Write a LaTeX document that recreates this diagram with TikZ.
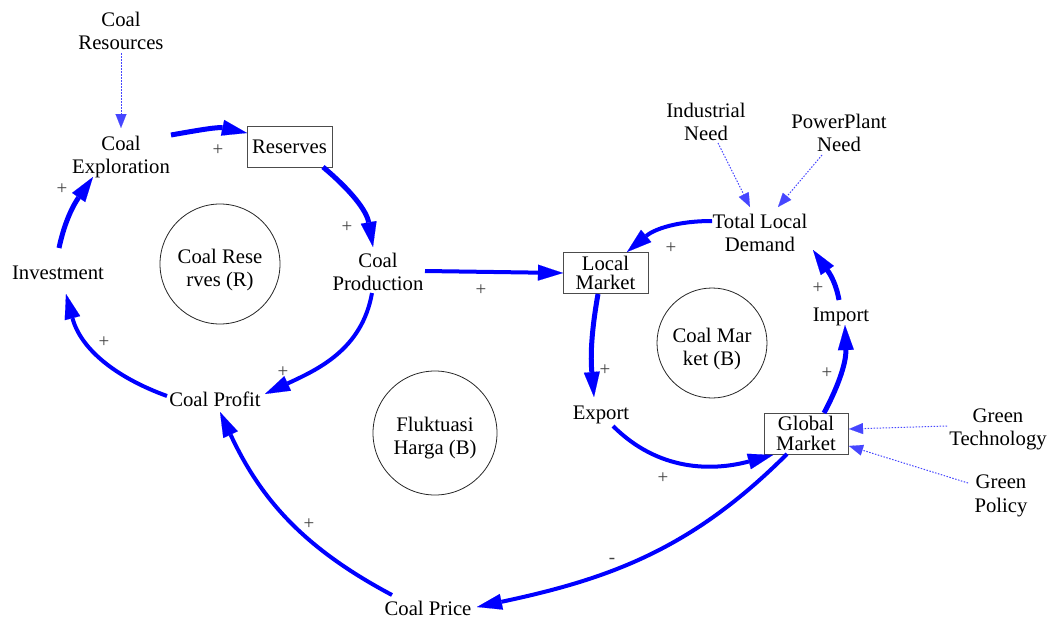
\documentclass[tikz,border=0pt]{standalone}
\usepackage{fontspec}
\setmainfont{Liberation Serif}
\newfontfamily\timesfam{Liberation Serif}
\usetikzlibrary{arrows.meta}
\definecolor{linkblue}{RGB}{0,0,255}
\definecolor{dotblue}{RGB}{70,70,255}
\newcommand\diagfont{\timesfam\fontsize{20.7}{23.5}\selectfont}
\newcommand\boxfont{\timesfam\fontsize{20.7}{19.5}\selectfont}
\newcommand\polfont{\timesfam\fontsize{19}{19}\selectfont}
\begin{document}
\begin{tikzpicture}[x=1pt,y=1pt,
  var/.style={align=center,inner sep=0pt,font=\diagfont},
  stock/.style={draw=black!70,line width=0.9pt,align=center,inner sep=0pt,minimum width=85pt,minimum height=41pt,font=\boxfont},
  loopc/.style={circle,draw=black!85,line width=0.8pt,inner sep=0pt},
  link/.style={draw=linkblue,line width=4pt,-{Triangle[length=25pt,width=16pt,line width=0.1pt]}},
  thicklink/.style={link,line width=5pt},
  aux/.style={draw=dotblue,line width=1pt,dash pattern=on 1.5pt off 1.5pt,-{Triangle[length=14pt,width=11pt,line width=0.1pt]}},
  pol/.style={font=\polfont,text=black!75,inner sep=0pt}
]
\path[use as bounding box] (0,0) rectangle (1054,-621);

% variables
\node[var] (cres) at (121,-31) {Coal\\Resources};
\node[var] (explo) at (121,-157) {Coal\\Exploration};
\node[stock] (res) at (289.5,-146.5) {Reserves};
\node[var] (prod) at (378,-272) {Coal\\Production};
\node[var] (invest) at (58,-273) {Investment};
\node[var] (profit) at (215,-399) {Coal Profit};
\node[var] (price) at (428,-608) {Coal Price};
\node[stock] (lm) at (605.5,-273) {Local\\Market};
\node[var] (tld) at (760,-233) {Total Local\\Demand};
\node[var] (ind) at (706,-122) {Industrial\\Need};
\node[var] (pp) at (839,-133) {PowerPlant\\Need};
\node[var] (imp) at (841,-317) {Import};
\node[var] (exp) at (601,-415) {Export};
\node[stock,minimum width=84pt] (glob) at (806,-433.5) {Global\\Market};
\node[var] (gtech) at (998,-429.5) {Green\\Technology};
\node[var] (gpol) at (1001,-496) {Green\\Policy};

% loop markers
\node[loopc,minimum size=120pt] (crc) at (220,-264) {};
\node[var] (crt) at (220,-270) {Coal Rese\\rves (R)};
\node[loopc,minimum size=124pt] (fhc) at (435,-433) {};
\node[var] (fht) at (435,-438) {Fluktuasi\\Harga (B)};
\node[loopc,minimum size=110pt] (cmc) at (712,-343) {};
\node[var] (cmt) at (712,-349) {Coal Mar\\ket (B)};

% causal links
\draw[thicklink] ([shift={(50,22)}]explo.center) to[out=10,in=168] ([shift={(-42.5,13.5)}]res.center);
\draw[thicklink] ([shift={(33.5,-20.5)}]res.center) to[out=-40,in=100] ([shift={(-5,25)}]prod.center);
\draw[link] ([shift={(47,1)}]prod.center) -- ([shift={(-42.5,0)}]lm.center);
\draw[link] ([shift={(-6,-21)}]prod.center) to[out=-100,in=25] ([shift={(50,5)}]profit.center);
\draw[link] ([shift={(-48,3)}]profit.center) to[out=160,in=-75] ([shift={(8,-21)}]invest.center);
\draw[thicklink] ([shift={(1,25)}]invest.center) to[out=78,in=-125] ([shift={(-28,-20)}]explo.center);
\draw[link] ([shift={(-36,13)}]price.center) to[out=152,in=-65] ([shift={(5,-13)}]profit.center);
\draw[link] ([shift={(-19,-20.5)}]glob.center) to[out=-135,in=12] ([shift={(49,1)}]price.center);
\draw[thicklink] ([shift={(-7.5,-21)}]lm.center) to[out=-100,in=95] ([shift={(-7,18)}]exp.center);
\draw[link] ([shift={(12,-11)}]exp.center) to[out=-45,in=-165] ([shift={(-33,-21.5)}]glob.center);
\draw[thicklink] ([shift={(18,20.5)}]glob.center) to[out=62,in=-88] ([shift={(4,-8)}]imp.center);
\draw[thicklink] ([shift={(-2,17)}]imp.center) to[out=100,in=-55] ([shift={(53,-17)}]tld.center);
\draw[link] ([shift={(-48,12)}]tld.center) to[out=180,in=40] ([shift={(21.5,21)}]lm.center);

% auxiliary (dotted) links
\draw[aux] ([shift={(0,-22)}]cres.center) -- ([shift={(0,29)}]explo.center);
\draw[aux] ([shift={(12,-21)}]ind.center) -- ([shift={(-10,26)}]tld.center);
\draw[aux] ([shift={(-17,-22)}]pp.center) -- ([shift={(18,26)}]tld.center);
\draw[aux] ([shift={(-51,3.5)}]gtech.center) -- ([shift={(43,4.5)}]glob.center);
\draw[aux] ([shift={(-33,13)}]gpol.center) -- ([shift={(43,-12.5)}]glob.center);

% polarities
\node[pol] (s1) at (218,-150) {+};
\node[pol] (s2) at (347,-227) {+};
\node[pol] (s3) at (481,-290) {+};
\node[pol] (s4) at (283,-372) {+};
\node[pol] (s5) at (104,-342) {+};
\node[pol] (s6) at (62,-189) {+};
\node[pol] (s7) at (309,-524) {+};
\node[pol] (s8) at (612,-561) {-};
\node[pol] (s9) at (605,-370) {+};
\node[pol] (s10) at (663,-478) {+};
\node[pol] (s11) at (827,-373) {+};
\node[pol] (s12) at (818,-288) {+};
\node[pol] (s13) at (671,-248) {+};
\end{tikzpicture}
\end{document}
